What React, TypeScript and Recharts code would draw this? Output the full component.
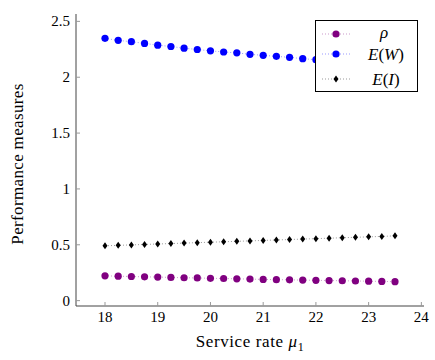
import { LineChart, Line, XAxis, YAxis, Legend } from 'recharts'

// service rate mu1 on the x axis
const mu = [
  18, 18.25, 18.5, 18.75, 19, 19.25, 19.5, 19.75, 20, 20.25, 20.5, 20.75,
  21, 21.25, 21.5, 21.75, 22, 22.25, 22.5, 22.75, 23, 23.25, 23.5,
]
const rho = [
  0.222, 0.219, 0.216, 0.213, 0.211, 0.208, 0.205, 0.203, 0.2, 0.198, 0.195, 0.193,
  0.19, 0.188, 0.186, 0.184, 0.182, 0.18, 0.178, 0.176, 0.174, 0.172, 0.17,
]
// E(W), the last few sit behind the legend box
const ew = [
  2.348, 2.33, 2.318, 2.303, 2.287, 2.275, 2.26, 2.248, 2.236, 2.226, 2.218, 2.205,
  2.196, 2.187, 2.178, 2.166, 2.157, 2.149, 2.141, 2.133, 2.125, 2.118, 2.111,
]
const ei = [
  0.491, 0.495, 0.499, 0.503, 0.507, 0.511, 0.515, 0.519, 0.523, 0.527, 0.531, 0.535,
  0.539, 0.543, 0.547, 0.551, 0.555, 0.559, 0.563, 0.567, 0.571, 0.575, 0.58,
]
const xTicks = [18, 19, 20, 21, 22, 23, 24]
const yTicks = [0, 0.5, 1, 1.5, 2, 2.5]

const data = mu.map((m, i) => ({ mu: m, rho: rho[i], ew: ew[i], ei: ei[i] }))

const FONT = "'Liberation Serif', 'DejaVu Serif', 'Times New Roman', serif"
const FRAME = '#444'
const TICK = '#999'
const PURPLE = '#800080'
const BLUE = '#0000ff'
const BLACK = '#000'
const XDOM: [number, number] = [17.45, 24.05]
const YDOM: [number, number] = [-0.048, 2.566]
const M = 6

const fmt = (v: number) => String(v)

const BottomTick = ({ x, y, payload }: any) => {
  const ay = y - M
  return (
    <g>
      <line x1={x} x2={x} y1={ay} y2={ay - 4} stroke={TICK} />
      <text x={x} y={ay + 16} textAnchor="middle" style={{ fontFamily: FONT }} fontSize={15} fill="#000">
        {fmt(payload.value)}
      </text>
    </g>
  )
}
const TopTick = ({ x, y }: any) => <line x1={x} x2={x} y1={y} y2={y + 4} stroke={TICK} />
const LeftTick = ({ x, y, payload }: any) => {
  const ax = x + M
  return (
    <g>
      <line x1={ax} x2={ax + 4} y1={y} y2={y} stroke={TICK} />
      <text x={ax - 6} y={y + 5} textAnchor="end" style={{ fontFamily: FONT }} fontSize={15} fill="#000">
        {fmt(payload.value)}
      </text>
    </g>
  )
}
const RightTick = ({ x, y }: any) => <line x1={x} x2={x - 4} y1={y} y2={y} stroke={TICK} />

const circleDot = (color: string) => (p: any) =>
  <circle key={p.index} cx={p.cx} cy={p.cy} r={3.6} fill={color} />
const diamondDot = (p: any) => (
  <polygon
    key={p.index}
    points={`${p.cx},${p.cy - 3.5} ${p.cx + 2.5},${p.cy} ${p.cx},${p.cy + 3.5} ${p.cx - 2.5},${p.cy}`}
    fill={BLACK}
  />
)

const legendRows = [
  { key: 'rho', color: PURPLE, shape: 'circle', y: 13 },
  { key: 'ew', color: BLUE, shape: 'circle', y: 33 },
  { key: 'ei', color: BLACK, shape: 'diamond', y: 58 },
]

const LegendText = ({ k, y }: { k: string; y: number }) => {
  if (k === 'rho')
    return (
      <text x={68} y={y + 4} textAnchor="middle" style={{ fontFamily: FONT }} fontSize={17} fontStyle="italic">ρ</text>
    )
  const v = k === 'ew' ? 'W' : 'I'
  return (
    <text x={70} y={y + 6} textAnchor="middle" style={{ fontFamily: FONT }} fontSize={17}>
      <tspan fontStyle="italic">E</tspan>(<tspan fontStyle="italic">{v}</tspan>)
    </text>
  )
}

const LegendBox = () => (
  <div style={{ width: 103, height: 72, boxSizing: 'border-box', border: '1px solid #000', background: '#fff' }}>
    <svg width={101} height={70}>
      {legendRows.map((r) => (
        <g key={r.key}>
          <line x1={6} x2={35} y1={r.y} y2={r.y} stroke={r.color} strokeOpacity={0.5} strokeWidth={0.8} strokeDasharray="1 2" />
          {r.shape === 'circle' ? (
            <circle cx={20} cy={r.y} r={3.6} fill={r.color} />
          ) : (
            <polygon points={`20,${r.y - 3.5} 22.5,${r.y} 20,${r.y + 3.5} 17.5,${r.y}`} fill={r.color} />
          )}
          <LegendText k={r.key} y={r.y} />
        </g>
      ))}
    </svg>
  </div>
)

export default function App() {
  return (
    <div style={{ position: 'absolute', left: 0, top: 0, width: 435, height: 360, background: '#fff', fontFamily: FONT }}>
      <LineChart width={435} height={360} data={data} margin={{ top: 14, right: 11, bottom: 0, left: 0 }}>
        <XAxis
          xAxisId="b"
          dataKey="mu"
          type="number"
          domain={XDOM}
          allowDataOverflow
          ticks={xTicks}
          height={54}
          tickSize={0}
          tickMargin={M}
          tick={<BottomTick />}
          axisLine={{ stroke: FRAME }}
          label={{
            content: ({ viewBox }: any) => (
              <text
                x={viewBox.x + viewBox.width / 2}
                y={viewBox.y + 41}
                textAnchor="middle"
                style={{ fontFamily: FONT, letterSpacing: 0.6 }}
                fontSize={17}
              >
                Service rate <tspan fontStyle="italic">μ</tspan>
                <tspan fontSize={12} dy={4}>1</tspan>
              </text>
            ),
          }}
        />
        <XAxis
          xAxisId="t"
          dataKey="mu"
          orientation="top"
          type="number"
          domain={XDOM}
          allowDataOverflow
          ticks={xTicks}
          height={0}
          tickSize={0}
          tickMargin={0}
          tick={<TopTick />}
          axisLine={{ stroke: FRAME }}
        />
        <YAxis
          yAxisId="l"
          type="number"
          domain={YDOM}
          allowDataOverflow
          ticks={yTicks}
          width={76}
          tickSize={0}
          tickMargin={M}
          tick={<LeftTick />}
          axisLine={{ stroke: FRAME }}
          label={{
            content: ({ viewBox }: any) => {
              const cx = 17
              const cy = viewBox.y + viewBox.height / 2 + 4
              return (
                <text
                  x={cx}
                  y={cy}
                  transform={`rotate(-90 ${cx} ${cy})`}
                  textAnchor="middle"
                  dominantBaseline="central"
                  style={{ fontFamily: FONT, letterSpacing: 0.35 }}
                  fontSize={17}
                >
                  Performance measures
                </text>
              )
            },
          }}
        />
        <YAxis
          yAxisId="r"
          orientation="right"
          type="number"
          domain={YDOM}
          allowDataOverflow
          ticks={yTicks}
          width={0}
          tickSize={0}
          tickMargin={0}
          tick={<RightTick />}
          axisLine={{ stroke: FRAME }}
        />
        <Line
          xAxisId="b"
          yAxisId="l"
          dataKey="rho"
          stroke={PURPLE}
          strokeOpacity={0.5}
          strokeWidth={0.8}
          strokeDasharray="1 2"
          dot={circleDot(PURPLE)}
          activeDot={false}
          isAnimationActive={false}
        />
        <Line
          xAxisId="b"
          yAxisId="l"
          dataKey="ew"
          stroke={BLUE}
          strokeOpacity={0.5}
          strokeWidth={0.8}
          strokeDasharray="1 2"
          dot={circleDot(BLUE)}
          activeDot={false}
          isAnimationActive={false}
        />
        <Line
          xAxisId="b"
          yAxisId="l"
          dataKey="ei"
          stroke={BLACK}
          strokeOpacity={0.5}
          strokeWidth={0.8}
          strokeDasharray="1 2"
          dot={diamondDot}
          activeDot={false}
          isAnimationActive={false}
        />
        <Legend
          layout="vertical"
          align="center"
          verticalAlign="middle"
          wrapperStyle={{ left: 315, top: 20, width: 103 }}
          content={<LegendBox />}
        />
      </LineChart>
    </div>
  )
}
